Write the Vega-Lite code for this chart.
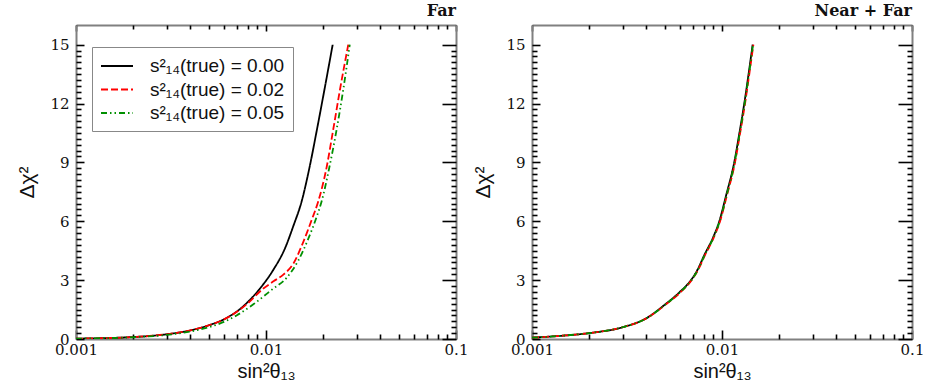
{
  "$schema": "https://vega.github.io/schema/vega-lite/v6.json",
  "padding": {"left": 16, "top": 3, "right": 0, "bottom": 0},
  "background": "white",
  "hconcat": [
    {
      "width": 380,
      "height": 314,
      "title": {"text": "Far", "anchor": "end", "frame": "group", "font": "DejaVu Serif", "fontWeight": "bold", "fontSize": 16, "offset": 5, "color": "#111"},
      "data": {"values": [
        {"series":"s²₁₄(true) = 0.00","x":0.001,"y":0.02},
        {"series":"s²₁₄(true) = 0.00","x":0.0015,"y":0.05},
        {"series":"s²₁₄(true) = 0.00","x":0.002,"y":0.1},
        {"series":"s²₁₄(true) = 0.00","x":0.0025,"y":0.16},
        {"series":"s²₁₄(true) = 0.00","x":0.003,"y":0.24},
        {"series":"s²₁₄(true) = 0.00","x":0.004,"y":0.44},
        {"series":"s²₁₄(true) = 0.00","x":0.005,"y":0.7},
        {"series":"s²₁₄(true) = 0.00","x":0.006,"y":1.0},
        {"series":"s²₁₄(true) = 0.00","x":0.0073,"y":1.53},
        {"series":"s²₁₄(true) = 0.00","x":0.00824,"y":2.0},
        {"series":"s²₁₄(true) = 0.00","x":0.00929,"y":2.57},
        {"series":"s²₁₄(true) = 0.00","x":0.01092,"y":3.52},
        {"series":"s²₁₄(true) = 0.00","x":0.0126,"y":4.63},
        {"series":"s²₁₄(true) = 0.00","x":0.01392,"y":5.75},
        {"series":"s²₁₄(true) = 0.00","x":0.01541,"y":7.02},
        {"series":"s²₁₄(true) = 0.00","x":0.01695,"y":8.75},
        {"series":"s²₁₄(true) = 0.00","x":0.01848,"y":10.6},
        {"series":"s²₁₄(true) = 0.00","x":0.0203,"y":12.7},
        {"series":"s²₁₄(true) = 0.00","x":0.02244,"y":15},
        {"series":"s²₁₄(true) = 0.02","x":0.001,"y":0.02},
        {"series":"s²₁₄(true) = 0.02","x":0.0015,"y":0.05},
        {"series":"s²₁₄(true) = 0.02","x":0.002,"y":0.1},
        {"series":"s²₁₄(true) = 0.02","x":0.003,"y":0.24},
        {"series":"s²₁₄(true) = 0.02","x":0.004,"y":0.44},
        {"series":"s²₁₄(true) = 0.02","x":0.005,"y":0.7},
        {"series":"s²₁₄(true) = 0.02","x":0.006,"y":1.0},
        {"series":"s²₁₄(true) = 0.02","x":0.0073,"y":1.5},
        {"series":"s²₁₄(true) = 0.02","x":0.00791,"y":1.77},
        {"series":"s²₁₄(true) = 0.02","x":0.00968,"y":2.57},
        {"series":"s²₁₄(true) = 0.02","x":0.011,"y":2.95},
        {"series":"s²₁₄(true) = 0.02","x":0.01234,"y":3.28},
        {"series":"s²₁₄(true) = 0.02","x":0.01392,"y":3.84},
        {"series":"s²₁₄(true) = 0.02","x":0.01572,"y":4.95},
        {"series":"s²₁₄(true) = 0.02","x":0.0174,"y":6.07},
        {"series":"s²₁₄(true) = 0.02","x":0.01885,"y":7.02},
        {"series":"s²₁₄(true) = 0.02","x":0.0207,"y":8.6},
        {"series":"s²₁₄(true) = 0.02","x":0.0226,"y":10.69},
        {"series":"s²₁₄(true) = 0.02","x":0.0245,"y":12.7},
        {"series":"s²₁₄(true) = 0.02","x":0.0271,"y":15},
        {"series":"s²₁₄(true) = 0.05","x":0.001,"y":0.02},
        {"series":"s²₁₄(true) = 0.05","x":0.002,"y":0.09},
        {"series":"s²₁₄(true) = 0.05","x":0.003,"y":0.21},
        {"series":"s²₁₄(true) = 0.05","x":0.004,"y":0.38},
        {"series":"s²₁₄(true) = 0.05","x":0.005,"y":0.6},
        {"series":"s²₁₄(true) = 0.05","x":0.006,"y":0.87},
        {"series":"s²₁₄(true) = 0.05","x":0.007,"y":1.2},
        {"series":"s²₁₄(true) = 0.05","x":0.00858,"y":1.77},
        {"series":"s²₁₄(true) = 0.05","x":0.01092,"y":2.57},
        {"series":"s²₁₄(true) = 0.05","x":0.01285,"y":3.12},
        {"series":"s²₁₄(true) = 0.05","x":0.01479,"y":4.0},
        {"series":"s²₁₄(true) = 0.05","x":0.0167,"y":5.11},
        {"series":"s²₁₄(true) = 0.05","x":0.01848,"y":6.23},
        {"series":"s²₁₄(true) = 0.05","x":0.01963,"y":7.02},
        {"series":"s²₁₄(true) = 0.05","x":0.0215,"y":8.7},
        {"series":"s²₁₄(true) = 0.05","x":0.02355,"y":10.69},
        {"series":"s²₁₄(true) = 0.05","x":0.0255,"y":12.7},
        {"series":"s²₁₄(true) = 0.05","x":0.02759,"y":15}
      ]},
      "layer": [
        {
          "mark": {"type": "line", "clip": true, "strokeWidth": 1.8, "interpolate": "monotone"},
          "encoding": {
            "x": {"field": "x", "type": "quantitative",
              "scale": {"type": "log", "domain": [0.001, 0.1]},
              "axis": {"orient": "bottom", "title": "sin²θ₁₃", "values": [0.001, 0.01, 0.1], "ticks": false, "grid": false,
                "labelExpr": "format(datum.value, '~g')", "labelFont": "DejaVu Serif", "labelFontSize": 15, "labelColor": "#111", "labelFlush": false, "labelOverlap": false, "labelPadding": 3,
                "titleFont": "Liberation Sans", "titleFontSize": 20, "titleFontWeight": "normal", "titleColor": "#111", "titlePadding": 4,
                "domainColor": "#808080", "domainWidth": 2}},
            "y": {"field": "y", "type": "quantitative",
              "scale": {"domain": [0, 15]},
              "axis": {"orient": "left", "title": "Δχ²", "values": [0, 3, 6, 9, 12, 15], "ticks": false, "grid": false,
                "labelFont": "DejaVu Serif", "labelFontSize": 15, "labelColor": "#111", "labelFlush": false, "labelOverlap": false, "labelPadding": 7,
                "titleFont": "Liberation Sans", "titleFontSize": 21, "titleFontWeight": "normal", "titleColor": "#111", "titlePadding": 12,
                "domainColor": "#808080", "domainWidth": 2}},
            "color": {"field": "series", "type": "nominal",
              "scale": {"domain": ["s²₁₄(true) = 0.00", "s²₁₄(true) = 0.02", "s²₁₄(true) = 0.05"], "range": ["#000000", "#ff0000", "#009000"]},
              "legend": {"orient": "none", "legendX": 16, "legendY": 22, "title": null,
                "symbolType": "M-1.6,0H1.6", "symbolSize": 400, "symbolStrokeWidth": 2, "symbolOffset": 6,
                "labelFont": "Liberation Sans", "labelFontSize": 19, "labelColor": "#111", "labelOffset": 22,
                "padding": 8, "rowPadding": 2.5, "strokeColor": "#888", "fillColor": "white"}},
            "strokeDash": {"field": "series", "type": "nominal",
              "scale": {"domain": ["s²₁₄(true) = 0.00", "s²₁₄(true) = 0.02", "s²₁₄(true) = 0.05"], "range": [[1, 0], [7, 3], [6, 3, 1.5, 3, 1.5, 3]]},
              "legend": {"orient": "none", "legendX": 16, "legendY": 22, "title": null,
                "symbolType": "M-1.6,0H1.6", "symbolSize": 400, "symbolStrokeWidth": 2, "symbolOffset": 6,
                "labelFont": "Liberation Sans", "labelFontSize": 19, "labelColor": "#111", "labelOffset": 22,
                "padding": 8, "rowPadding": 2.5, "strokeColor": "#888", "fillColor": "white"}}
          }
        },
        {
          "mark": {"type": "point", "opacity": 0},
          "encoding": {
            "x": {"field": "x", "type": "quantitative", "axis": {"orient": "top", "title": null, "labels": false, "ticks": false, "grid": false, "domainColor": "#808080", "domainWidth": 2}},
            "y": {"field": "y", "type": "quantitative", "axis": {"orient": "right", "title": null, "labels": false, "ticks": false, "grid": false, "domainColor": "#808080", "domainWidth": 2}}
          }
        },
        {
          "mark": {"type": "point", "opacity": 0},
          "encoding": {
            "x": {"field": "x", "type": "quantitative", "axis": {"orient": "bottom", "title": null, "labels": false, "domain": false, "grid": false, "values": [0.001, 0.01, 0.1], "tickSize": -9, "tickColor": "#000", "tickWidth": 1.6}},
            "y": {"field": "y", "type": "quantitative", "axis": {"orient": "left", "title": null, "labels": false, "domain": false, "grid": false, "values": [0, 3, 6, 9, 12, 15], "tickSize": -8, "tickColor": "#000", "tickWidth": 1.6}}
          }
        },
        {
          "mark": {"type": "point", "opacity": 0},
          "encoding": {
            "x": {"field": "x", "type": "quantitative", "axis": {"orient": "bottom", "title": null, "labels": false, "domain": false, "grid": false, "values": [0.002,0.003,0.004,0.005,0.006,0.007,0.008,0.009,0.02,0.03,0.04,0.05,0.06,0.07,0.08,0.09], "tickSize": -5, "tickColor": "#000", "tickWidth": 1.6}},
            "y": {"field": "y", "type": "quantitative", "axis": {"orient": "left", "title": null, "labels": false, "domain": false, "grid": false, "values": [0.3,0.6,0.9,1.2,1.5,1.8,2.1,2.4,2.7,3.3,3.6,3.9,4.2,4.5,4.8,5.1,5.4,5.7,6.3,6.6,6.9,7.2,7.5,7.8,8.1,8.4,8.7,9.3,9.6,9.9,10.2,10.5,10.8,11.1,11.4,11.7,12.3,12.6,12.9,13.2,13.5,13.8,14.1,14.4,14.7], "tickSize": -5, "tickColor": "#000", "tickWidth": 1.6}}
          }
        },
        {
          "mark": {"type": "point", "opacity": 0},
          "encoding": {
            "x": {"field": "x", "type": "quantitative", "axis": {"orient": "top", "title": null, "labels": false, "domain": false, "grid": false, "values": [0.001, 0.01, 0.1], "tickSize": -6, "tickColor": "#000", "tickWidth": 1.6}},
            "y": {"field": "y", "type": "quantitative", "axis": {"orient": "right", "title": null, "labels": false, "domain": false, "grid": false, "values": [0, 3, 6, 9, 12, 15], "tickSize": -14, "tickColor": "#000", "tickWidth": 1.6}}
          }
        },
        {
          "mark": {"type": "point", "opacity": 0},
          "encoding": {
            "x": {"field": "x", "type": "quantitative", "axis": {"orient": "top", "title": null, "labels": false, "domain": false, "grid": false, "values": [0.002,0.003,0.004,0.005,0.006,0.007,0.008,0.009,0.02,0.03,0.04,0.05,0.06,0.07,0.08,0.09], "tickSize": -4, "tickColor": "#000", "tickWidth": 1.6}},
            "y": {"field": "y", "type": "quantitative", "axis": {"orient": "right", "title": null, "labels": false, "domain": false, "grid": false, "values": [0.3,0.6,0.9,1.2,1.5,1.8,2.1,2.4,2.7,3.3,3.6,3.9,4.2,4.5,4.8,5.1,5.4,5.7,6.3,6.6,6.9,7.2,7.5,7.8,8.1,8.4,8.7,9.3,9.6,9.9,10.2,10.5,10.8,11.1,11.4,11.7,12.3,12.6,12.9,13.2,13.5,13.8,14.1,14.4,14.7], "tickSize": -5, "tickColor": "#000", "tickWidth": 1.6}}
          }
        }
      ],
      "resolve": {"axis": {"x": "independent", "y": "independent"}}
    },
    {
      "width": 380,
      "height": 314,
      "title": {"text": "Near + Far", "anchor": "end", "frame": "group", "font": "DejaVu Serif", "fontWeight": "bold", "fontSize": 16, "offset": 5, "color": "#111"},
      "data": {"values": [
        {"series":"s²₁₄(true) = 0.00","x":0.001,"y":0.07},
        {"series":"s²₁₄(true) = 0.00","x":0.0015,"y":0.18},
        {"series":"s²₁₄(true) = 0.00","x":0.002,"y":0.3},
        {"series":"s²₁₄(true) = 0.00","x":0.003,"y":0.6},
        {"series":"s²₁₄(true) = 0.00","x":0.004,"y":1.06},
        {"series":"s²₁₄(true) = 0.00","x":0.005,"y":1.75},
        {"series":"s²₁₄(true) = 0.00","x":0.006,"y":2.4},
        {"series":"s²₁₄(true) = 0.00","x":0.00687,"y":3.0},
        {"series":"s²₁₄(true) = 0.00","x":0.0075,"y":3.6},
        {"series":"s²₁₄(true) = 0.00","x":0.008,"y":4.2},
        {"series":"s²₁₄(true) = 0.00","x":0.009,"y":5.2},
        {"series":"s²₁₄(true) = 0.00","x":0.00968,"y":6.0},
        {"series":"s²₁₄(true) = 0.00","x":0.0105,"y":7.3},
        {"series":"s²₁₄(true) = 0.00","x":0.0116,"y":9.0},
        {"series":"s²₁₄(true) = 0.00","x":0.0123,"y":10.4},
        {"series":"s²₁₄(true) = 0.00","x":0.0131,"y":12.0},
        {"series":"s²₁₄(true) = 0.00","x":0.0138,"y":13.5},
        {"series":"s²₁₄(true) = 0.00","x":0.0145,"y":15},
        {"series":"s²₁₄(true) = 0.02","x":0.001,"y":0.07},
        {"series":"s²₁₄(true) = 0.02","x":0.0015,"y":0.18},
        {"series":"s²₁₄(true) = 0.02","x":0.002,"y":0.3},
        {"series":"s²₁₄(true) = 0.02","x":0.003,"y":0.6},
        {"series":"s²₁₄(true) = 0.02","x":0.004,"y":1.05},
        {"series":"s²₁₄(true) = 0.02","x":0.005,"y":1.72},
        {"series":"s²₁₄(true) = 0.02","x":0.006,"y":2.35},
        {"series":"s²₁₄(true) = 0.02","x":0.00692,"y":3.0},
        {"series":"s²₁₄(true) = 0.02","x":0.00756,"y":3.6},
        {"series":"s²₁₄(true) = 0.02","x":0.00807,"y":4.2},
        {"series":"s²₁₄(true) = 0.02","x":0.00908,"y":5.2},
        {"series":"s²₁₄(true) = 0.02","x":0.00977,"y":6.0},
        {"series":"s²₁₄(true) = 0.02","x":0.0106,"y":7.3},
        {"series":"s²₁₄(true) = 0.02","x":0.01171,"y":9.0},
        {"series":"s²₁₄(true) = 0.02","x":0.01241,"y":10.4},
        {"series":"s²₁₄(true) = 0.02","x":0.01322,"y":12.0},
        {"series":"s²₁₄(true) = 0.02","x":0.01392,"y":13.5},
        {"series":"s²₁₄(true) = 0.02","x":0.01463,"y":15},
        {"series":"s²₁₄(true) = 0.05","x":0.001,"y":0.07},
        {"series":"s²₁₄(true) = 0.05","x":0.0015,"y":0.18},
        {"series":"s²₁₄(true) = 0.05","x":0.002,"y":0.3},
        {"series":"s²₁₄(true) = 0.05","x":0.003,"y":0.6},
        {"series":"s²₁₄(true) = 0.05","x":0.004,"y":1.05},
        {"series":"s²₁₄(true) = 0.05","x":0.005,"y":1.73},
        {"series":"s²₁₄(true) = 0.05","x":0.006,"y":2.37},
        {"series":"s²₁₄(true) = 0.05","x":0.0069,"y":3.0},
        {"series":"s²₁₄(true) = 0.05","x":0.00754,"y":3.6},
        {"series":"s²₁₄(true) = 0.05","x":0.00804,"y":4.2},
        {"series":"s²₁₄(true) = 0.05","x":0.00905,"y":5.2},
        {"series":"s²₁₄(true) = 0.05","x":0.00973,"y":6.0},
        {"series":"s²₁₄(true) = 0.05","x":0.01056,"y":7.3},
        {"series":"s²₁₄(true) = 0.05","x":0.01166,"y":9.0},
        {"series":"s²₁₄(true) = 0.05","x":0.01236,"y":10.4},
        {"series":"s²₁₄(true) = 0.05","x":0.01316,"y":12.0},
        {"series":"s²₁₄(true) = 0.05","x":0.01387,"y":13.5},
        {"series":"s²₁₄(true) = 0.05","x":0.01457,"y":15}
      ]},
      "layer": [
        {
          "mark": {"type": "line", "clip": true, "strokeWidth": 1.8, "interpolate": "monotone"},
          "encoding": {
            "x": {"field": "x", "type": "quantitative",
              "scale": {"type": "log", "domain": [0.001, 0.1]},
              "axis": {"orient": "bottom", "title": "sin²θ₁₃", "values": [0.001, 0.01, 0.1], "ticks": false, "grid": false,
                "labelExpr": "format(datum.value, '~g')", "labelFont": "DejaVu Serif", "labelFontSize": 15, "labelColor": "#111", "labelFlush": false, "labelOverlap": false, "labelPadding": 3,
                "titleFont": "Liberation Sans", "titleFontSize": 20, "titleFontWeight": "normal", "titleColor": "#111", "titlePadding": 4,
                "domainColor": "#808080", "domainWidth": 2}},
            "y": {"field": "y", "type": "quantitative",
              "scale": {"domain": [0, 15]},
              "axis": {"orient": "left", "title": "Δχ²", "values": [0, 3, 6, 9, 12, 15], "ticks": false, "grid": false,
                "labelFont": "DejaVu Serif", "labelFontSize": 15, "labelColor": "#111", "labelFlush": false, "labelOverlap": false, "labelPadding": 7,
                "titleFont": "Liberation Sans", "titleFontSize": 21, "titleFontWeight": "normal", "titleColor": "#111", "titlePadding": 12,
                "domainColor": "#808080", "domainWidth": 2}},
            "color": {"field": "series", "type": "nominal",
              "scale": {"domain": ["s²₁₄(true) = 0.00", "s²₁₄(true) = 0.02", "s²₁₄(true) = 0.05"], "range": ["#000000", "#ff0000", "#009000"]},
              "legend": null},
            "strokeDash": {"field": "series", "type": "nominal",
              "scale": {"domain": ["s²₁₄(true) = 0.00", "s²₁₄(true) = 0.02", "s²₁₄(true) = 0.05"], "range": [[1, 0], [7, 3], [6, 3, 1.5, 3, 1.5, 3]]},
              "legend": null}
          }
        },
        {
          "mark": {"type": "point", "opacity": 0},
          "encoding": {
            "x": {"field": "x", "type": "quantitative", "axis": {"orient": "top", "title": null, "labels": false, "ticks": false, "grid": false, "domainColor": "#808080", "domainWidth": 2}},
            "y": {"field": "y", "type": "quantitative", "axis": {"orient": "right", "title": null, "labels": false, "ticks": false, "grid": false, "domainColor": "#808080", "domainWidth": 2}}
          }
        },
        {
          "mark": {"type": "point", "opacity": 0},
          "encoding": {
            "x": {"field": "x", "type": "quantitative", "axis": {"orient": "bottom", "title": null, "labels": false, "domain": false, "grid": false, "values": [0.001, 0.01, 0.1], "tickSize": -9, "tickColor": "#000", "tickWidth": 1.6}},
            "y": {"field": "y", "type": "quantitative", "axis": {"orient": "left", "title": null, "labels": false, "domain": false, "grid": false, "values": [0, 3, 6, 9, 12, 15], "tickSize": -8, "tickColor": "#000", "tickWidth": 1.6}}
          }
        },
        {
          "mark": {"type": "point", "opacity": 0},
          "encoding": {
            "x": {"field": "x", "type": "quantitative", "axis": {"orient": "bottom", "title": null, "labels": false, "domain": false, "grid": false, "values": [0.002,0.003,0.004,0.005,0.006,0.007,0.008,0.009,0.02,0.03,0.04,0.05,0.06,0.07,0.08,0.09], "tickSize": -5, "tickColor": "#000", "tickWidth": 1.6}},
            "y": {"field": "y", "type": "quantitative", "axis": {"orient": "left", "title": null, "labels": false, "domain": false, "grid": false, "values": [0.3,0.6,0.9,1.2,1.5,1.8,2.1,2.4,2.7,3.3,3.6,3.9,4.2,4.5,4.8,5.1,5.4,5.7,6.3,6.6,6.9,7.2,7.5,7.8,8.1,8.4,8.7,9.3,9.6,9.9,10.2,10.5,10.8,11.1,11.4,11.7,12.3,12.6,12.9,13.2,13.5,13.8,14.1,14.4,14.7], "tickSize": -5, "tickColor": "#000", "tickWidth": 1.6}}
          }
        },
        {
          "mark": {"type": "point", "opacity": 0},
          "encoding": {
            "x": {"field": "x", "type": "quantitative", "axis": {"orient": "top", "title": null, "labels": false, "domain": false, "grid": false, "values": [0.001, 0.01, 0.1], "tickSize": -6, "tickColor": "#000", "tickWidth": 1.6}},
            "y": {"field": "y", "type": "quantitative", "axis": {"orient": "right", "title": null, "labels": false, "domain": false, "grid": false, "values": [0, 3, 6, 9, 12, 15], "tickSize": -14, "tickColor": "#000", "tickWidth": 1.6}}
          }
        },
        {
          "mark": {"type": "point", "opacity": 0},
          "encoding": {
            "x": {"field": "x", "type": "quantitative", "axis": {"orient": "top", "title": null, "labels": false, "domain": false, "grid": false, "values": [0.002,0.003,0.004,0.005,0.006,0.007,0.008,0.009,0.02,0.03,0.04,0.05,0.06,0.07,0.08,0.09], "tickSize": -4, "tickColor": "#000", "tickWidth": 1.6}},
            "y": {"field": "y", "type": "quantitative", "axis": {"orient": "right", "title": null, "labels": false, "domain": false, "grid": false, "values": [0.3,0.6,0.9,1.2,1.5,1.8,2.1,2.4,2.7,3.3,3.6,3.9,4.2,4.5,4.8,5.1,5.4,5.7,6.3,6.6,6.9,7.2,7.5,7.8,8.1,8.4,8.7,9.3,9.6,9.9,10.2,10.5,10.8,11.1,11.4,11.7,12.3,12.6,12.9,13.2,13.5,13.8,14.1,14.4,14.7], "tickSize": -5, "tickColor": "#000", "tickWidth": 1.6}}
          }
        }
      ],
      "resolve": {"axis": {"x": "independent", "y": "independent"}}
    }
  ],
  "spacing": 76,
  "bounds": "flush",
  "resolve": {"scale": {"color": "independent", "strokeDash": "independent"}, "legend": {"color": "independent", "strokeDash": "independent"}},
  "config": {"view": {"stroke": null}}
}
